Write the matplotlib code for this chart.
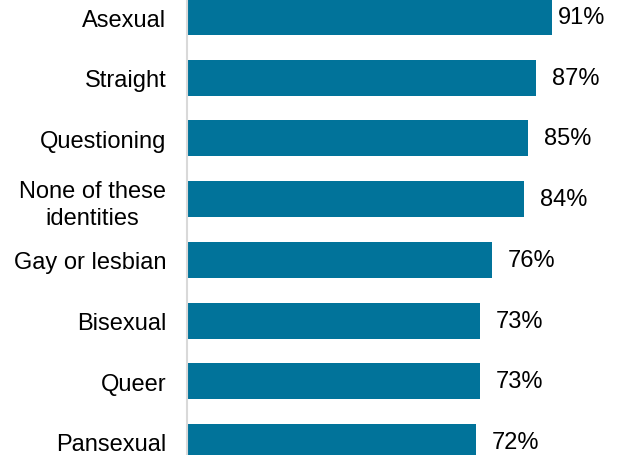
import matplotlib
matplotlib.use("Agg")
import matplotlib.pyplot as plt

plt.rcParams['font.family'] = ['Liberation Sans', 'DejaVu Sans']

categories = ['Asexual', 'Straight', 'Questioning', 'None of these\nidentities',
              'Gay or lesbian', 'Bisexual', 'Queer', 'Pansexual']
values = [91, 87, 85, 84, 76, 73, 73, 72]

bar_color = '#01739a'

fig = plt.figure(figsize=(6.18, 4.56), dpi=100)
ax = fig.add_axes([187 / 618, 0, 431 / 618, 1])

pos = list(range(len(categories)))
ax.barh(pos, values, height=0.593, color=bar_color)

ax.set_xlim(0, 107.5)
ax.set_ylim(7.215, -0.297)

ax.set_yticks(pos)
ax.set_yticklabels(categories, fontsize=17, multialignment='center', linespacing=1.3)
ax.tick_params(axis='y', length=0, pad=15)
ax.set_xticks([])

for side in ['top', 'right', 'bottom']:
    ax.spines[side].set_visible(False)
ax.spines['left'].set_color('#d9d9d9')
ax.spines['left'].set_linewidth(1.5)

# value labels; the longest bar gets a tighter gap so it stays inside the figure
for p, v in zip(pos, values):
    gap = 4 if v > 90 else 11.5
    ax.annotate(f'{v}%', xy=(v, p), xytext=(gap, 0), textcoords='offset points',
                va='center', ha='left', fontsize=17, color='black')

fig.savefig('out.png', dpi=100)
